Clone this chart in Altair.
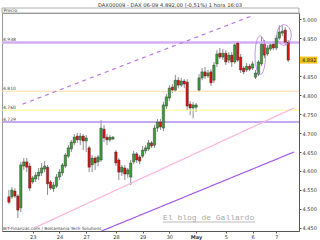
import altair as alt
import pandas as pd

# Hourly candles (DAX 06-09), prices
opens = [4532,4532,4547,4534,4503,4613,4624,4613,4571,4579,
         4587,4595,4605,4610,4571,4553,4560,4584,4595,4613,
         4639,4658,4674,4692,4682,4692,4679,4661,4616,4634,
         4624,4629,4710,4689,4682,4684,4650,4629,4597,4608,
         4592,4584,4624,4645,4637,4639,4653,4658,4674,4668,
         4713,4729,4713,4771,4792,4821,4813,4839,4826,4837,
         4834,4776,4766,4768,4813,4845,4861,4850,4861,4839,
         4882,4910,4900,4910,4892,4905,4887,4937,4900,4871,
         4866,4876,4871,4847,4855,4882,4934,4908,4921,4934,
         4924,4950,4963,4971,4939]
closes = [4518,4550,4534,4497,4616,4624,4610,4555,4582,4589,
          4597,4608,4613,4566,4555,4563,4584,4597,4616,4642,
          4661,4676,4689,4682,4692,4679,4687,4610,4634,4621,
          4637,4713,4687,4682,4689,4689,4621,4597,4610,4592,
          4603,4621,4645,4629,4626,4655,4661,4674,4666,4713,
          4729,4716,4774,4795,4818,4813,4839,4826,4837,4829,
          4771,4766,4774,4774,4845,4861,4850,4858,4832,4879,
          4908,4900,4910,4887,4905,4887,4932,4892,4866,4861,
          4876,4868,4882,4858,4887,4934,4905,4924,4932,4924,
          4950,4966,4968,4939,4892]
highs = [4550,4558,4555,4539,4624,4634,4634,4621,4587,4597,
         4608,4621,4626,4616,4576,4571,4592,4605,4621,4647,
         4668,4682,4697,4700,4700,4697,4695,4666,4642,4639,
         4642,4734,4721,4697,4695,4692,4655,4634,4616,4616,
         4608,4629,4653,4650,4642,4666,4668,4682,4679,4721,
         4737,4737,4782,4803,4826,4829,4853,4847,4845,4842,
         4842,4784,4782,4779,4855,4871,4874,4866,4868,4887,
         4918,4924,4921,4918,4913,4913,4937,4942,4908,4876,
         4884,4882,4889,4866,4892,4953,4945,4932,4939,4942,
         4958,4984,4984,4979,4945]
lows = [4513,4526,4529,4476,4492,4603,4597,4547,4566,4571,
        4576,4587,4597,4537,4550,4545,4555,4576,4587,4608,
        4634,4650,4668,4674,4668,4655,4650,4597,4597,4603,
        4613,4624,4676,4668,4676,4682,4613,4576,4587,4576,
        4582,4563,4618,4621,4618,4634,4645,4653,4661,4661,
        4703,4708,4705,4763,4784,4805,4808,4818,4821,4818,
        4760,4747,4739,4755,4808,4839,4842,4845,4824,4832,
        4874,4895,4892,4879,4884,4874,4882,4887,4858,4855,
        4861,4863,4866,4842,4850,4876,4897,4903,4916,4918,
        4918,4945,4955,4932,4887]

day_labels = ["23", "24", "27", "28", "29", "30", "May", "5", "6", "7"]
day_start = [8, 17, 26, 36, 45, 54, 63, 73, 82, 90]

price_ticks = [4450, 4500, 4550, 4600, 4650, 4700, 4750, 4800, 4850, 4950, 5000]

level_values = [4938, 4810, 4760, 4729]
level_labels = ["4.938", "4.810", "4.760", "4.729"]
level_colors = ["#d4aef2", "#ffd9a8", "#ffff8c", "#b58ce8"]
level_widths = [2.5, 1, 1, 1.5]

# trend lines: (candle index, price) start and end
trend_i0 = [4.6, 8.5, 31.2]
trend_p0 = [4776, 4450, 4442]
trend_i1 = [82.3, 95.95, 95.95]
trend_p1 = [5010, 4766, 4650]
trend_colors = ["#b77be6", "#ffb3da", "#a45ae6"]
trend_dash = [[4, 4], [1, 0], [1, 0]]

# hand-drawn ellipses: centre (candle index, price)
ellipse_i = [84.6, 92.6]
ellipse_p = [4905, 4958]

last_price = 4892
title_text = "DAX00009 - DAX 06-09   4.892,00 (-0,51%)   1 hora  16:03"

W, H = 297, 218

df = pd.DataFrame({
    "i": list(range(len(opens))),
    "open": opens, "close": closes, "high": highs, "low": lows,
})
df["dir"] = ["up" if c >= o else "down" for o, c in zip(opens, closes)]

xscale = alt.Scale(domain=[-0.65, 95.95], nice=False, zero=False)
yscale = alt.Scale(domain=[4442, 5016], nice=False, zero=False)

label_expr = (
    "[" + ",".join("'%s'" % s for s in day_labels) + "][indexof(["
    + ",".join(str(v) for v in day_start) + "], datum.value)]"
)

x_axis = alt.Axis(values=day_start, labelExpr=label_expr, grid=False, title=None,
                  domainColor="#555", tickColor="#555", tickSize=2,
                  labelFontSize=5, labelColor="#333", labelPadding=1,
                  labelFont="DejaVu Sans",
                  labelFontWeight={"condition": {"test": "datum.value == 63", "value": "bold"}, "value": "normal"})
y_axis = alt.Axis(orient="right", values=price_ticks, grid=False, title=None,
                  labelExpr="replace(format(datum.value, ','), ',', '.')",
                  domainColor="#555", tickColor="#555", tickSize=2,
                  labelFontSize=5, labelColor="#333", labelPadding=1,
                  labelFont="DejaVu Sans")


def X(field):
    return alt.X(field, scale=xscale, axis=x_axis, title=None)


def Y(field):
    return alt.Y(field, scale=yscale, axis=y_axis, title=None)


base = alt.Chart(df)

# horizontal levels
lv = pd.DataFrame({"p": level_values, "lab": level_labels, "col": level_colors, "w": level_widths})
levels = alt.Chart(lv).mark_rule().encode(
    y=Y("p:Q"),
    color=alt.Color("col:N", scale=None),
    strokeWidth=alt.StrokeWidth("w:Q", scale=None),
)
level_text = alt.Chart(lv).mark_text(align="left", baseline="bottom", dy=-0.5,
                                     fontSize=4.5, color="#444", font="DejaVu Sans").encode(
    x=alt.value(1), y=Y("p:Q"), text="lab:N")

# trend lines
trend_layers = []
for k in range(len(trend_i0)):
    tdf = pd.DataFrame({"i": [trend_i0[k], trend_i1[k]], "p": [trend_p0[k], trend_p1[k]]})
    trend_layers.append(
        alt.Chart(tdf).mark_line(color=trend_colors[k], strokeWidth=1.2,
                                 strokeDash=trend_dash[k], clip=True).encode(
            x=X("i:Q"), y=Y("p:Q"))
    )

wicks = base.mark_rule(color="#8c8c8c", strokeWidth=1).encode(
    x=X("i:Q"), y=Y("low:Q"), y2="high:Q",
)
bodies = base.mark_bar(size=2.4, stroke="#2a2a2a", strokeWidth=0.4).encode(
    x=X("i:Q"), y=Y("open:Q"), y2="close:Q",
    color=alt.Color("dir:N", scale=alt.Scale(domain=["up", "down"], range=["#3a9d3a", "#d81414"]), legend=None),
)

# hand-drawn ellipses (tall narrow one, then wider round one)
ell_paths = [
    "M -0.27 0 A 0.27 1 0 1 0 0.27 0 A 0.27 1 0 1 0 -0.27 0 Z",
    "M -0.7 0 A 0.7 1 0 1 0 0.7 0 A 0.7 1 0 1 0 -0.7 0 Z",
]
ell_sizes = [1500, 420]
ellipse_layers = []
for k in range(len(ellipse_i)):
    edf = pd.DataFrame({"i": [ellipse_i[k]], "p": [ellipse_p[k]]})
    ellipse_layers.append(
        alt.Chart(edf).mark_point(shape=ell_paths[k], filled=False, size=ell_sizes[k],
                                  stroke="#b07ae6", strokeWidth=0.8, opacity=1).encode(
            x=X("i:Q"), y=Y("p:Q"))
    )

# last price box on the axis
lp = pd.DataFrame({"p": [last_price], "lab": ["4.892"]})
lp_box = alt.Chart(lp).mark_rect(color="#f2c21b", clip=False, height=7).encode(
    x=alt.value(W + 1), x2=alt.value(W + 18), y=Y("p:Q"))
lp_text = alt.Chart(lp).mark_text(align="left", baseline="middle", fontSize=5,
                                  color="#222", font="DejaVu Sans").encode(
    x=alt.value(W + 3), y=Y("p:Q"), text="lab:N")

# texts & decorations
misc = pd.DataFrame({"t": [title_text]})
title_mark = alt.Chart(misc).mark_text(fontSize=5.2, color="#333", font="DejaVu Sans",
                                       align="center", baseline="middle").encode(
    x=alt.value(168), y=alt.value(-8.5), text="t:N")
header = alt.Chart(misc).mark_rect(fill="white", stroke="#9a9a9a", strokeWidth=0.8).encode(
    x=alt.value(0), x2=alt.value(W), y=alt.value(-5), y2=alt.value(0))
precio = alt.Chart(pd.DataFrame({"t": ["Precio"]})).mark_text(
    fontSize=4.5, color="#333", font="DejaVu Sans", align="left", baseline="middle").encode(
    x=alt.value(1.5), y=alt.value(-2.5), text="t:N")
bit = alt.Chart(pd.DataFrame({"t": ["BIT-Finanzas.com / Bolsamania Tech Solutions"]})).mark_text(
    fontSize=4.3, color="#444", font="DejaVu Sans", align="left", baseline="middle").encode(
    x=alt.value(1), y=alt.value(216), text="t:N")
wm = alt.Chart(pd.DataFrame({"t": ["El blog de Gallardo"]})).mark_text(
    fontSize=8, color="#a8a8a8", font="Liberation Mono", align="left", baseline="alphabetic").encode(
    x=alt.value(161), y=alt.value(207), text="t:N")
wm_line = alt.Chart(pd.DataFrame({"t": ["u"]})).mark_rule(color="#a8a8a8", strokeWidth=0.8).encode(
    x=alt.value(161), x2=alt.value(253), y=alt.value(209))

chart = alt.layer(
    wicks, header, levels, *trend_layers, bodies, *ellipse_layers, level_text,
    lp_box, lp_text, title_mark, precio, bit, wm, wm_line
).properties(
    width=W, height=H,
    autosize=alt.AutoSizeParams(type="none"),
    padding={"left": 2, "top": 13, "right": 21, "bottom": 9},
    background="white",
).configure_view(stroke="#9a9a9a", strokeWidth=1)

chart.save("out.html", embed_options={"renderer": "svg", "actions": False})
